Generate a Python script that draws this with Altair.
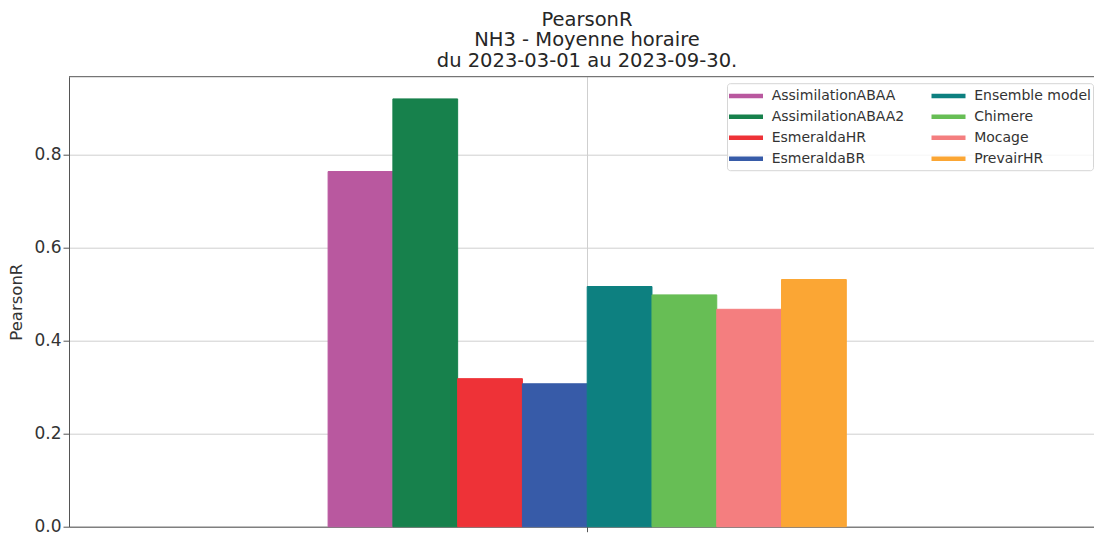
import altair as alt
import pandas as pd

# ---- data ----
models = ["AssimilationABAA", "AssimilationABAA2", "EsmeraldaHR", "EsmeraldaBR",
          "Ensemble model", "Chimere", "Mocage", "PrevairHR"]
pearson_r = [0.763, 0.919, 0.318, 0.307, 0.516, 0.498, 0.467, 0.531]
colors = ["#b9589f", "#17814c", "#ee3237", "#375ba8",
          "#0d8080", "#67be55", "#f47e7f", "#fba634"]
title_lines = ["PearsonR", "NH3 - Moyenne horaire", "du 2023-03-01 au 2023-09-30."]
y_ticks = [0.0, 0.2, 0.4, 0.6, 0.8]

# pandas-style grouped bar layout: one group centred at 0, total width 0.5
n = len(models)
group_width = 0.5
bw = group_width / n
x_start = [-group_width / 2 + i * bw for i in range(n)]
x_end = [s + bw for s in x_start]
df = pd.DataFrame({"model": models, "value": pearson_r, "x0": x_start, "x1": x_end})

W, H = 1025, 450
FONT = "DejaVu Sans"

scale = alt.Scale(domain=models, range=colors)
legend = alt.Legend(
    title=None, orient="none", legendX=658, legendY=6.5, columns=2,
    columnPadding=17.5, rowPadding=1, padding=2,
    symbolType="M-1.273,0H2.85", symbolSize=272, symbolStrokeWidth=4.5,
    labelOffset=21.7, labelFontSize=14, labelFont=FONT, labelColor="#333333",
    strokeColor="#d6d6d6", fillColor="rgba(255,255,255,0.8)", cornerRadius=3,
    labelLimit=400, symbolOpacity=1,
)

bars = alt.Chart(df).mark_bar().encode(
    x=alt.X("x0:Q",
            scale=alt.Scale(domain=[-0.5, 0.489], nice=False, zero=False),
            axis=alt.Axis(values=[0], labels=False, ticks=True, tickSize=5,
                          grid=True, title=None)),
    x2="x1:Q",
    y=alt.Y("value:Q", stack=None,
            scale=alt.Scale(domain=[0, 0.9667], nice=False),
            axis=alt.Axis(values=y_ticks, format=".1f", title="PearsonR",
                          tickSize=6, labelPadding=2, titleX=-48,
                          titleBaseline="alphabetic")),
    y2=alt.datum(0),
    color=alt.Color("model:N", scale=scale, legend=legend),
    stroke=alt.Stroke("model:N", scale=scale, legend=legend),
)

top_border = alt.Chart(pd.DataFrame({"k": [0]})).mark_rule(
    color="#555555", strokeWidth=1
).encode(x=alt.value(0), x2=alt.value(W), y=alt.value(0))

chart = alt.layer(bars, top_border).properties(
    width=W, height=H,
    autosize=alt.AutoSizeParams(type="none"),
    padding={"left": 69, "top": 76.7, "right": 0, "bottom": 8.3},
    title=alt.TitleParams(
        text=title_lines, fontSize=19.5, font=FONT, fontWeight="normal",
        color="#262626", lineHeight=20.5, anchor="middle", dx=5.5,
        offset=8, dy=18, baseline="alphabetic",
    ),
).configure_view(stroke=None).configure_axis(
    labelFont=FONT, titleFont=FONT, labelColor="#333333", titleColor="#333333",
    domainColor="#555555", tickColor="#555555", gridColor="#cfcfcf",
    gridWidth=1, labelFontSize=17, titleFontSize=16.5, titleFontWeight="normal",
)

chart.save("out.html", embed_options={"renderer": "svg", "actions": False})
